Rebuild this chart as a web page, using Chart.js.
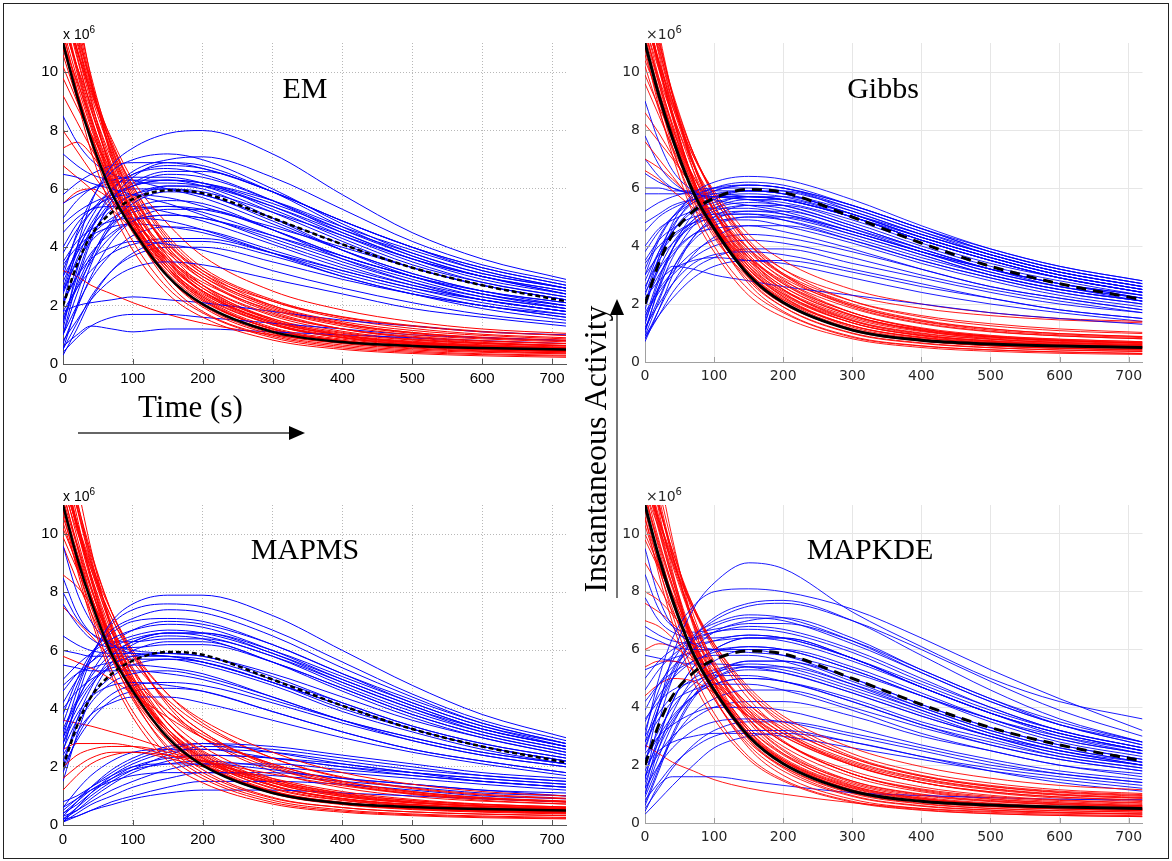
<!DOCTYPE html>
<html>
<head>
<meta charset="utf-8">
<script src="https://cdn.jsdelivr.net/npm/chart.js@4.4.1/dist/chart.umd.min.js"></script>
<style>
  body { margin: 0; background: #fff; width: 1172px; height: 861px; position: relative; overflow: hidden; }
  #frame { position: absolute; left: 3px; top: 3px; width: 1164px; height: 854px; border: 1px solid #222; }
  .panel { position: absolute; }
  .title { position: absolute; font-family: "Liberation Serif", serif; font-size: 30px; color: #000;
           transform: translate(-50%, -50%); white-space: nowrap; }
  .exp { position: absolute; white-space: nowrap; font-size: 14px; line-height: 16px; }
  .exp sup { font-size: 10px; vertical-align: 6px; line-height: 0; }
  .exp.m { font-family: "Liberation Sans", Arial, sans-serif; color: #000; }
  .exp.p { font-family: "DejaVu Sans", sans-serif; color: #262626; }
  .label { position: absolute; font-family: "Liberation Serif", serif; font-size: 31px; color: #000; white-space: nowrap; }
  svg { position: absolute; left: 0; top: 0; }
</style>
</head>
<body>
<div id="frame"></div>

<canvas id="em" class="panel" width="580" height="380" style="left:0;top:20px"></canvas>
<canvas id="gibbs" class="panel" width="580" height="380" style="left:590px;top:20px"></canvas>
<canvas id="mapms" class="panel" width="580" height="380" style="left:0;top:480px"></canvas>
<canvas id="mapkde" class="panel" width="580" height="380" style="left:590px;top:480px"></canvas>

<div class="title" style="left:305px;top:88px">EM</div>
<div class="title" style="left:883px;top:88px">Gibbs</div>
<div class="title" style="left:305px;top:549px">MAPMS</div>
<div class="title" style="left:870px;top:549px">MAPKDE</div>

<div class="exp m" style="left:63px;top:26px">x 10<sup>6</sup></div>
<div class="exp p" style="left:646px;top:26px">×10<sup>6</sup></div>
<div class="exp m" style="left:63px;top:488px">x 10<sup>6</sup></div>
<div class="exp p" style="left:646px;top:488px">×10<sup>6</sup></div>

<div class="label" style="left:138px;top:389px">Time (s)</div>
<div class="label" style="left:595px;top:449px;font-size:32px;transform:translate(-50%,-50%) rotate(-90deg)">Instantaneous Activity</div>

<svg width="1172" height="861">
  <line x1="78" y1="433" x2="290" y2="433" stroke="#333" stroke-width="1.5"/>
  <polygon points="305,433 289,426 289,440" fill="#000"/>
  <line x1="617" y1="598" x2="617" y2="314" stroke="#777" stroke-width="2"/>
  <polygon points="617,299 610,315 624,315" fill="#000"/>
</svg>

<script>
// time grid (s) shared by every curve; values in units of 1e6
const T = [0, 20, 40, 70, 100, 150, 200, 300, 400, 500, 600, 720];
const X_TICKS = [0, 100, 200, 300, 400, 500, 600, 700];
const Y_TICKS = [0, 2, 4, 6, 8, 10];

// ensemble means (black lines)
const RED_MEAN  = [11.0, 9.2, 7.7, 5.85, 4.6, 3.0, 2.05, 1.1, 0.75, 0.62, 0.55, 0.5];
const BLUE_MEAN = [2.0, 3.4, 4.4, 5.2, 5.65, 5.95, 5.85, 5.0, 4.1, 3.3, 2.7, 2.15];

// ---- EM ----
const EM_RED = [
  [13.0, 10.8, 9.0, 6.8, 5.2, 3.4, 2.3, 1.25, 0.85, 0.65, 0.55, 0.48],
  [12.0, 10.1, 8.4, 6.3, 4.8, 3.0, 2.0, 1.05, 0.7, 0.52, 0.43, 0.38],
  [14.5, 12.0, 9.9, 7.4, 5.6, 3.7, 2.6, 1.5, 1.05, 0.82, 0.7, 0.62],
  [11.4, 9.4, 7.6, 5.6, 4.2, 2.6, 1.75, 0.9, 0.55, 0.4, 0.32, 0.27],
  [12.6, 10.8, 9.2, 7.2, 5.7, 4.0, 3.0, 1.9, 1.35, 1.05, 0.9, 0.8],
  [11.0, 9.4, 7.9, 6.0, 4.7, 3.2, 2.3, 1.35, 0.92, 0.72, 0.6, 0.52],
  [15.5, 12.4, 9.8, 7.0, 5.0, 3.0, 1.95, 1.0, 0.65, 0.48, 0.4, 0.35],
  [10.2, 9.0, 7.8, 6.2, 5.0, 3.6, 2.7, 1.7, 1.2, 0.95, 0.8, 0.7],
  [12.2, 10.7, 9.3, 7.5, 6.1, 4.4, 3.3, 2.2, 1.6, 1.3, 1.1, 0.98],
  [13.6, 11.3, 9.1, 6.5, 4.7, 2.8, 1.8, 0.95, 0.6, 0.44, 0.35, 0.3],
  [9.2, 8.3, 7.4, 6.2, 5.2, 3.9, 3.0, 2.0, 1.45, 1.15, 0.98, 0.86],
  [11.8, 10.2, 8.7, 6.7, 5.2, 3.5, 2.5, 1.45, 0.98, 0.76, 0.64, 0.56],
  [8.0, 7.3, 6.6, 5.6, 4.7, 3.6, 2.8, 1.85, 1.3, 1.0, 0.86, 0.76],
  [12.9, 11.0, 9.4, 7.3, 5.8, 4.0, 2.9, 1.75, 1.2, 0.92, 0.78, 0.7],
  [11.2, 9.1, 7.3, 5.3, 3.9, 2.4, 1.6, 0.82, 0.5, 0.36, 0.28, 0.23],
  [12.3, 10.8, 9.4, 7.7, 6.3, 4.8, 3.7, 2.5, 1.85, 1.45, 1.2, 1.05],
  [6.8, 6.4, 6.0, 5.3, 4.6, 3.5, 2.6, 1.55, 1.0, 0.72, 0.58, 0.5],
  [11.0, 9.7, 8.4, 6.6, 5.3, 3.7, 2.7, 1.65, 1.12, 0.86, 0.72, 0.63],
  [13.2, 11.3, 9.6, 7.4, 5.9, 3.9, 2.7, 1.5, 0.98, 0.74, 0.62, 0.54],
  [3.2, 3.0, 2.7, 2.4, 2.1, 1.7, 1.4, 1.0, 0.72, 0.55, 0.45, 0.38],
  [10.6, 9.1, 7.7, 5.9, 4.5, 3.0, 2.05, 1.15, 0.78, 0.58, 0.48, 0.42],
  [11.6, 10.2, 8.9, 7.0, 5.7, 4.1, 3.1, 2.15, 1.62, 1.32, 1.12, 0.98],
  [7.4, 7.6, 7.2, 6.1, 5.0, 3.5, 2.5, 1.4, 0.9, 0.66, 0.54, 0.46],
  [14.0, 11.8, 9.7, 7.1, 5.3, 3.3, 2.2, 1.2, 0.8, 0.6, 0.5, 0.44],
  [12.7, 10.6, 8.8, 6.6, 5.0, 3.3, 2.25, 1.2, 0.8, 0.6, 0.5, 0.44],
  [11.9, 10.0, 8.3, 6.2, 4.7, 3.1, 2.15, 1.2, 0.8, 0.62, 0.52, 0.46],
  [13.8, 11.6, 9.6, 7.2, 5.5, 3.6, 2.5, 1.4, 0.95, 0.74, 0.62, 0.55],
  [11.3, 9.6, 8.1, 6.2, 4.9, 3.4, 2.5, 1.55, 1.08, 0.84, 0.7, 0.62],
  [12.4, 10.5, 8.8, 6.7, 5.2, 3.5, 2.45, 1.35, 0.9, 0.68, 0.56, 0.49],
  [10.8, 9.3, 7.9, 6.1, 4.8, 3.3, 2.4, 1.45, 1.0, 0.78, 0.66, 0.58],
  [9.8, 8.8, 7.9, 6.6, 5.5, 4.1, 3.2, 2.15, 1.55, 1.22, 1.02, 0.9],
  [12.1, 10.2, 8.5, 6.4, 4.9, 3.2, 2.2, 1.2, 0.8, 0.6, 0.5, 0.43],
  [13.3, 11.4, 9.7, 7.6, 6.1, 4.3, 3.2, 2.0, 1.4, 1.08, 0.9, 0.8],
  [5.5, 5.9, 6.0, 5.6, 4.9, 3.8, 2.9, 1.8, 1.2, 0.9, 0.74, 0.64],
  [11.5, 9.8, 8.2, 6.3, 4.9, 3.3, 2.35, 1.35, 0.9, 0.69, 0.58, 0.5],
  [12.8, 11.1, 9.5, 7.5, 6.0, 4.2, 3.1, 1.95, 1.38, 1.08, 0.92, 0.82]
];
const EM_BLUE = [
  [2.0, 4.0, 5.5, 6.8, 7.4, 7.9, 8.0, 7.2, 5.8, 4.5, 3.6, 2.9],
  [3.0, 4.5, 5.6, 6.6, 7.0, 7.2, 7.0, 6.0, 4.8, 3.8, 3.1, 2.6],
  [1.0, 2.8, 4.2, 5.6, 6.4, 6.9, 6.8, 5.9, 4.7, 3.7, 3.0, 2.5],
  [2.5, 3.8, 4.8, 5.7, 6.1, 6.3, 6.1, 5.2, 4.2, 3.3, 2.7, 2.2],
  [0.5, 2.0, 3.4, 4.8, 5.5, 5.9, 5.8, 4.9, 3.9, 3.1, 2.5, 2.0],
  [4.0, 4.8, 5.3, 5.7, 5.8, 5.7, 5.4, 4.6, 3.7, 3.0, 2.4, 1.9],
  [6.5, 6.4, 6.2, 6.0, 5.8, 5.5, 5.1, 4.2, 3.4, 2.7, 2.2, 1.8],
  [1.5, 2.6, 3.5, 4.4, 4.9, 5.1, 5.0, 4.3, 3.5, 2.8, 2.3, 1.9],
  [3.5, 4.2, 4.6, 4.9, 5.0, 4.9, 4.6, 3.8, 3.0, 2.4, 1.9, 1.5],
  [0.3, 1.2, 2.2, 3.2, 3.8, 4.2, 4.2, 3.7, 3.0, 2.4, 2.0, 1.6],
  [2.2, 3.0, 3.6, 4.0, 4.2, 4.1, 3.9, 3.2, 2.6, 2.1, 1.7, 1.4],
  [0.8, 1.5, 2.2, 2.9, 3.3, 3.5, 3.4, 2.9, 2.4, 1.9, 1.6, 1.3],
  [5.0, 5.6, 6.0, 6.3, 6.4, 6.4, 6.2, 5.4, 4.4, 3.5, 2.8, 2.3],
  [1.2, 3.2, 4.6, 5.9, 6.6, 7.0, 7.1, 6.4, 5.3, 4.2, 3.4, 2.8],
  [2.8, 3.9, 4.7, 5.4, 5.8, 6.0, 5.9, 5.2, 4.4, 3.6, 3.0, 2.5],
  [0.4, 0.9, 1.3, 1.6, 1.7, 1.7, 1.6, 1.4, 1.2, 1.0, 0.9, 0.8],
  [1.8, 2.0, 2.1, 2.2, 2.3, 2.2, 2.1, 1.8, 1.5, 1.3, 1.1, 1.0],
  [0.6, 1.0, 1.3, 1.2, 1.1, 1.2, 1.2, 1.1, 1.0, 0.9, 0.8, 0.7],
  [8.5, 7.6, 7.0, 6.5, 6.3, 6.0, 5.7, 4.8, 3.9, 3.1, 2.5, 2.1],
  [2.0, 3.3, 4.4, 5.3, 5.8, 6.1, 6.0, 5.0, 3.9, 3.0, 2.4, 2.0],
  [3.2, 4.4, 5.2, 6.0, 6.5, 6.7, 6.5, 5.6, 4.5, 3.6, 2.9, 2.4],
  [1.0, 2.0, 2.9, 3.8, 4.4, 4.7, 4.6, 3.9, 3.2, 2.6, 2.1, 1.7],
  [4.5, 5.0, 5.3, 5.4, 5.4, 5.2, 4.9, 4.1, 3.3, 2.7, 2.2, 1.8],
  [2.5, 3.5, 4.2, 4.8, 5.2, 5.4, 5.3, 4.7, 4.0, 3.3, 2.7, 2.2],
  [5.8, 6.2, 6.5, 6.8, 6.9, 6.9, 6.7, 5.9, 4.9, 4.0, 3.3, 2.7],
  [1.6, 2.7, 3.7, 4.7, 5.3, 5.6, 5.5, 4.6, 3.6, 2.8, 2.2, 1.8],
  [2.6, 4.0, 5.0, 6.0, 6.5, 6.8, 6.7, 5.9, 4.9, 4.0, 3.2, 2.6],
  [1.4, 3.0, 4.3, 5.5, 6.1, 6.5, 6.4, 5.6, 4.6, 3.7, 3.0, 2.4],
  [3.8, 4.6, 5.2, 5.8, 6.1, 6.3, 6.2, 5.5, 4.6, 3.8, 3.1, 2.6],
  [0.7, 1.9, 3.0, 4.2, 4.9, 5.3, 5.3, 4.6, 3.7, 3.0, 2.4, 2.0],
  [4.8, 5.2, 5.5, 5.8, 6.0, 6.0, 5.8, 5.0, 4.1, 3.3, 2.7, 2.2],
  [2.1, 3.0, 3.8, 4.5, 4.9, 5.1, 5.0, 4.4, 3.7, 3.0, 2.5, 2.1],
  [5.5, 5.8, 6.0, 6.2, 6.3, 6.3, 6.2, 5.6, 4.7, 3.9, 3.2, 2.6],
  [1.0, 2.4, 3.6, 4.9, 5.6, 6.1, 6.1, 5.3, 4.3, 3.4, 2.8, 2.3],
  [3.0, 3.8, 4.4, 5.0, 5.3, 5.4, 5.2, 4.4, 3.6, 2.9, 2.3, 1.9],
  [1.8, 2.6, 3.2, 3.8, 4.1, 4.3, 4.3, 3.8, 3.2, 2.6, 2.2, 1.8],
  [7.2, 6.8, 6.5, 6.3, 6.2, 6.2, 6.1, 5.4, 4.5, 3.6, 3.0, 2.4],
  [2.4, 3.6, 4.6, 5.6, 6.2, 6.6, 6.6, 5.9, 4.9, 4.0, 3.3, 2.7],
  [0.5, 1.4, 2.3, 3.2, 3.7, 4.0, 4.0, 3.5, 2.9, 2.4, 2.0, 1.6],
  [3.4, 4.0, 4.4, 4.7, 4.8, 4.7, 4.5, 3.8, 3.1, 2.5, 2.0, 1.7]
];

// ---- Gibbs ----
const GIBBS_RED = [
  [12.5, 10.3, 8.5, 6.3, 4.8, 3.1, 2.15, 1.15, 0.78, 0.62, 0.54, 0.48],
  [11.5, 9.6, 7.9, 5.8, 4.4, 2.8, 1.9, 1.0, 0.66, 0.5, 0.42, 0.37],
  [13.5, 11.2, 9.2, 6.8, 5.2, 3.4, 2.4, 1.35, 0.92, 0.74, 0.64, 0.57],
  [11.0, 9.1, 7.4, 5.4, 4.0, 2.5, 1.7, 0.85, 0.55, 0.42, 0.35, 0.3],
  [12.0, 10.2, 8.6, 6.6, 5.2, 3.6, 2.6, 1.6, 1.12, 0.9, 0.78, 0.7],
  [10.6, 9.0, 7.6, 5.8, 4.5, 3.0, 2.15, 1.25, 0.86, 0.68, 0.58, 0.51],
  [14.0, 11.4, 9.2, 6.6, 4.8, 2.9, 1.9, 0.98, 0.64, 0.49, 0.41, 0.36],
  [9.6, 8.5, 7.4, 5.9, 4.8, 3.4, 2.5, 1.55, 1.08, 0.86, 0.74, 0.66],
  [11.8, 10.3, 8.9, 7.1, 5.8, 4.2, 3.2, 2.1, 1.55, 1.25, 1.08, 0.98],
  [12.8, 10.6, 8.6, 6.2, 4.5, 2.7, 1.75, 0.88, 0.56, 0.42, 0.34, 0.29],
  [8.6, 7.9, 7.1, 6.0, 5.1, 3.8, 2.9, 1.95, 1.42, 1.14, 0.98, 0.88],
  [11.2, 9.6, 8.1, 6.2, 4.8, 3.2, 2.3, 1.35, 0.92, 0.72, 0.61, 0.54],
  [7.6, 7.0, 6.4, 5.5, 4.7, 3.6, 2.8, 1.85, 1.32, 1.04, 0.9, 0.8],
  [12.2, 10.4, 8.8, 6.8, 5.4, 3.7, 2.7, 1.62, 1.1, 0.86, 0.74, 0.66],
  [10.8, 8.8, 7.1, 5.1, 3.8, 2.3, 1.55, 0.8, 0.5, 0.37, 0.3, 0.26],
  [11.6, 10.1, 8.8, 7.1, 5.9, 4.4, 3.5, 2.5, 2.0, 1.7, 1.5, 1.4],
  [6.6, 6.3, 5.9, 5.3, 4.6, 3.5, 2.6, 1.6, 1.08, 0.8, 0.66, 0.57],
  [10.4, 9.2, 8.0, 6.4, 5.2, 3.7, 2.75, 1.7, 1.18, 0.92, 0.79, 0.7],
  [12.6, 10.7, 9.0, 6.9, 5.4, 3.6, 2.5, 1.42, 0.95, 0.72, 0.61, 0.54],
  [11.3, 9.8, 8.5, 6.8, 5.6, 4.1, 3.2, 2.3, 1.85, 1.6, 1.45, 1.35],
  [10.2, 8.7, 7.3, 5.6, 4.3, 2.9, 2.0, 1.1, 0.74, 0.56, 0.47, 0.41],
  [11.9, 10.4, 9.0, 7.2, 5.8, 4.1, 3.05, 1.95, 1.4, 1.1, 0.94, 0.84],
  [8.2, 7.6, 7.0, 6.0, 5.1, 3.9, 3.05, 2.1, 1.6, 1.32, 1.14, 1.02],
  [13.2, 11.1, 9.2, 6.9, 5.2, 3.3, 2.25, 1.2, 0.8, 0.61, 0.52, 0.46],
  [12.3, 10.2, 8.4, 6.2, 4.7, 3.0, 2.05, 1.08, 0.72, 0.56, 0.48, 0.43],
  [11.7, 9.8, 8.1, 6.1, 4.7, 3.1, 2.2, 1.25, 0.84, 0.66, 0.56, 0.5],
  [13.0, 10.9, 9.0, 6.8, 5.2, 3.5, 2.5, 1.45, 1.0, 0.79, 0.68, 0.6],
  [11.1, 9.4, 7.9, 6.0, 4.7, 3.2, 2.35, 1.42, 0.98, 0.78, 0.67, 0.6],
  [12.1, 10.1, 8.4, 6.3, 4.9, 3.2, 2.25, 1.25, 0.84, 0.65, 0.55, 0.49],
  [10.9, 9.3, 7.9, 6.1, 4.8, 3.3, 2.45, 1.5, 1.05, 0.83, 0.71, 0.63],
  [9.9, 8.8, 7.8, 6.4, 5.3, 3.9, 3.0, 2.0, 1.45, 1.15, 0.98, 0.87],
  [12.4, 10.3, 8.5, 6.3, 4.8, 3.1, 2.1, 1.12, 0.74, 0.56, 0.47, 0.41],
  [12.9, 11.0, 9.3, 7.2, 5.7, 3.9, 2.85, 1.7, 1.15, 0.88, 0.75, 0.66],
  [7.0, 6.7, 6.3, 5.6, 4.8, 3.6, 2.7, 1.7, 1.15, 0.88, 0.74, 0.65],
  [11.4, 9.7, 8.2, 6.3, 4.9, 3.3, 2.35, 1.35, 0.9, 0.7, 0.59, 0.52],
  [12.5, 10.8, 9.2, 7.2, 5.8, 4.1, 3.0, 1.9, 1.35, 1.06, 0.9, 0.8]
];
const GIBBS_BLUE = [
  [2.0, 3.6, 4.8, 5.8, 6.2, 6.4, 6.3, 5.6, 4.7, 3.9, 3.3, 2.8],
  [3.0, 4.2, 5.0, 5.7, 6.0, 6.1, 6.0, 5.3, 4.5, 3.7, 3.1, 2.6],
  [1.0, 2.6, 3.9, 5.1, 5.6, 5.9, 5.8, 5.1, 4.3, 3.6, 3.0, 2.5],
  [0.7, 1.8, 3.0, 4.3, 5.0, 5.4, 5.4, 4.8, 4.0, 3.3, 2.8, 2.3],
  [4.5, 5.0, 5.3, 5.6, 5.8, 5.9, 5.8, 5.1, 4.3, 3.6, 3.0, 2.5],
  [6.5, 6.2, 6.0, 5.8, 5.7, 5.6, 5.4, 4.7, 3.9, 3.2, 2.7, 2.2],
  [9.0, 7.6, 6.6, 5.9, 5.6, 5.4, 5.2, 4.5, 3.8, 3.2, 2.7, 2.3],
  [1.5, 2.9, 3.9, 4.8, 5.2, 5.4, 5.3, 4.6, 3.8, 3.1, 2.6, 2.1],
  [3.5, 4.2, 4.6, 5.0, 5.1, 5.1, 4.9, 4.2, 3.5, 2.9, 2.4, 2.0],
  [0.8, 1.8, 2.7, 3.7, 4.3, 4.7, 4.7, 4.2, 3.5, 2.9, 2.4, 2.0],
  [2.4, 3.2, 3.8, 4.4, 4.6, 4.7, 4.5, 3.9, 3.2, 2.6, 2.2, 1.8],
  [1.2, 2.0, 2.7, 3.4, 3.7, 3.8, 3.7, 3.2, 2.7, 2.2, 1.8, 1.5],
  [5.2, 5.5, 5.7, 5.9, 6.0, 6.0, 5.9, 5.3, 4.5, 3.8, 3.2, 2.7],
  [1.8, 3.4, 4.6, 5.6, 6.0, 6.2, 6.1, 5.4, 4.6, 3.8, 3.2, 2.7],
  [2.8, 3.8, 4.5, 5.2, 5.5, 5.7, 5.6, 5.0, 4.2, 3.5, 2.9, 2.4],
  [1.4, 2.6, 3.3, 3.2, 3.0, 2.8, 2.6, 2.3, 2.0, 1.7, 1.5, 1.3],
  [2.2, 2.8, 3.2, 3.5, 3.6, 3.5, 3.4, 2.9, 2.4, 2.0, 1.7, 1.4],
  [0.9, 1.6, 2.2, 2.9, 3.3, 3.5, 3.5, 3.1, 2.6, 2.2, 1.8, 1.5],
  [7.8, 6.8, 6.2, 5.8, 5.7, 5.6, 5.5, 4.9, 4.1, 3.4, 2.9, 2.4],
  [2.0, 3.2, 4.1, 4.9, 5.3, 5.5, 5.4, 4.7, 3.9, 3.2, 2.6, 2.2],
  [3.2, 4.3, 5.0, 5.6, 5.9, 6.1, 6.0, 5.4, 4.6, 3.9, 3.3, 2.8],
  [1.1, 2.2, 3.2, 4.2, 4.7, 5.0, 5.0, 4.4, 3.7, 3.0, 2.5, 2.1],
  [4.0, 4.6, 4.9, 5.2, 5.3, 5.3, 5.1, 4.5, 3.8, 3.2, 2.7, 2.3],
  [2.6, 3.5, 4.1, 4.7, 5.0, 5.1, 5.0, 4.4, 3.7, 3.0, 2.5, 2.1],
  [1.6, 2.4, 3.0, 3.6, 4.0, 4.2, 4.1, 3.6, 3.0, 2.5, 2.1, 1.7],
  [5.8, 5.8, 5.8, 5.8, 5.8, 5.7, 5.6, 5.0, 4.2, 3.5, 2.9, 2.4],
  [2.5, 3.8, 4.7, 5.5, 5.9, 6.1, 6.0, 5.4, 4.6, 3.8, 3.2, 2.7],
  [1.3, 2.8, 3.9, 4.9, 5.4, 5.7, 5.7, 5.1, 4.3, 3.6, 3.0, 2.5],
  [3.8, 4.5, 5.0, 5.5, 5.7, 5.8, 5.7, 5.1, 4.4, 3.7, 3.1, 2.6],
  [0.9, 2.1, 3.2, 4.3, 4.9, 5.2, 5.2, 4.6, 3.9, 3.2, 2.7, 2.2],
  [4.8, 5.1, 5.4, 5.6, 5.7, 5.7, 5.6, 5.0, 4.2, 3.5, 2.9, 2.4],
  [2.1, 3.0, 3.7, 4.4, 4.8, 5.0, 4.9, 4.3, 3.6, 3.0, 2.5, 2.1],
  [6.0, 6.0, 5.9, 5.9, 5.9, 5.9, 5.8, 5.2, 4.4, 3.7, 3.1, 2.6],
  [1.1, 2.5, 3.6, 4.7, 5.3, 5.6, 5.6, 5.0, 4.2, 3.5, 2.9, 2.4],
  [3.0, 3.7, 4.3, 4.8, 5.1, 5.2, 5.1, 4.5, 3.8, 3.1, 2.6, 2.2],
  [1.7, 2.5, 3.1, 3.8, 4.2, 4.4, 4.3, 3.8, 3.2, 2.6, 2.2, 1.8],
  [7.0, 6.4, 6.0, 5.8, 5.7, 5.7, 5.6, 5.0, 4.3, 3.6, 3.0, 2.5],
  [2.3, 3.6, 4.5, 5.3, 5.7, 5.9, 5.9, 5.2, 4.4, 3.7, 3.1, 2.6],
  [0.8, 1.6, 2.4, 3.2, 3.6, 3.9, 3.9, 3.4, 2.9, 2.4, 2.0, 1.7],
  [3.4, 4.0, 4.4, 4.8, 4.9, 4.9, 4.7, 4.1, 3.4, 2.8, 2.3, 1.9]
];

// ---- MAPMS ----
const MAPMS_RED = [
  [12.4, 10.3, 8.5, 6.3, 4.8, 3.1, 2.1, 1.1, 0.72, 0.56, 0.48, 0.42],
  [11.5, 9.6, 7.9, 5.8, 4.3, 2.7, 1.8, 0.92, 0.6, 0.45, 0.37, 0.32],
  [13.6, 11.2, 9.2, 6.8, 5.1, 3.3, 2.3, 1.25, 0.84, 0.65, 0.55, 0.48],
  [11.0, 9.0, 7.3, 5.3, 3.9, 2.4, 1.6, 0.78, 0.48, 0.35, 0.28, 0.23],
  [12.0, 10.2, 8.6, 6.6, 5.1, 3.5, 2.5, 1.45, 0.98, 0.76, 0.64, 0.56],
  [10.4, 8.9, 7.5, 5.7, 4.4, 2.9, 2.05, 1.15, 0.78, 0.6, 0.51, 0.45],
  [14.5, 11.8, 9.5, 6.7, 4.8, 2.9, 1.9, 0.95, 0.6, 0.45, 0.38, 0.33],
  [9.6, 8.4, 7.3, 5.8, 4.7, 3.3, 2.4, 1.45, 0.98, 0.76, 0.64, 0.56],
  [11.8, 10.3, 8.9, 7.1, 5.8, 4.2, 3.2, 2.0, 1.4, 1.08, 0.9, 0.8],
  [12.8, 10.6, 8.5, 6.1, 4.4, 2.6, 1.7, 0.85, 0.52, 0.38, 0.31, 0.26],
  [2.0, 2.4, 2.6, 2.7, 2.7, 2.5, 2.2, 1.6, 1.15, 0.88, 0.72, 0.62],
  [11.2, 9.6, 8.1, 6.2, 4.8, 3.2, 2.25, 1.28, 0.86, 0.66, 0.56, 0.49],
  [7.5, 7.0, 6.5, 5.7, 5.0, 3.9, 3.1, 2.1, 1.5, 1.15, 0.95, 0.82],
  [12.2, 10.4, 8.8, 6.8, 5.4, 3.7, 2.7, 1.6, 1.08, 0.84, 0.71, 0.62],
  [10.8, 8.8, 7.1, 5.1, 3.7, 2.2, 1.45, 0.72, 0.44, 0.32, 0.25, 0.21],
  [11.6, 10.1, 8.8, 7.1, 5.9, 4.5, 3.6, 2.5, 1.8, 1.4, 1.15, 1.0],
  [1.2, 1.7, 2.1, 2.4, 2.5, 2.4, 2.2, 1.75, 1.35, 1.05, 0.85, 0.72],
  [10.2, 9.0, 7.8, 6.2, 5.0, 3.5, 2.55, 1.52, 1.02, 0.78, 0.66, 0.58],
  [5.8, 5.6, 5.4, 5.0, 4.5, 3.7, 3.0, 2.1, 1.5, 1.15, 0.94, 0.8],
  [2.6, 2.8, 2.8, 2.8, 2.7, 2.4, 2.1, 1.5, 1.05, 0.8, 0.65, 0.56],
  [10.6, 9.1, 7.7, 5.9, 4.5, 3.0, 2.1, 1.15, 0.76, 0.58, 0.49, 0.43],
  [11.9, 10.4, 9.0, 7.3, 6.0, 4.5, 3.5, 2.3, 1.62, 1.25, 1.03, 0.9],
  [8.6, 8.2, 7.6, 6.6, 5.6, 4.3, 3.4, 2.3, 1.65, 1.28, 1.06, 0.92],
  [13.0, 10.9, 9.0, 6.7, 5.0, 3.2, 2.15, 1.15, 0.76, 0.58, 0.49, 0.43],
  [12.5, 10.4, 8.6, 6.4, 4.9, 3.2, 2.2, 1.18, 0.78, 0.6, 0.5, 0.44],
  [11.8, 9.9, 8.2, 6.1, 4.6, 3.0, 2.05, 1.1, 0.72, 0.55, 0.46, 0.4],
  [13.1, 11.0, 9.1, 6.9, 5.3, 3.5, 2.45, 1.38, 0.92, 0.71, 0.6, 0.52],
  [11.1, 9.4, 7.9, 6.0, 4.7, 3.2, 2.3, 1.35, 0.9, 0.7, 0.59, 0.52],
  [1.6, 2.0, 2.3, 2.5, 2.5, 2.3, 2.0, 1.45, 1.02, 0.78, 0.64, 0.55],
  [10.9, 9.3, 7.9, 6.0, 4.7, 3.2, 2.3, 1.35, 0.9, 0.7, 0.58, 0.51],
  [9.9, 8.8, 7.8, 6.4, 5.3, 3.9, 3.0, 1.95, 1.4, 1.08, 0.9, 0.78],
  [12.2, 10.2, 8.4, 6.3, 4.7, 3.0, 2.05, 1.08, 0.7, 0.53, 0.44, 0.38],
  [12.9, 11.1, 9.4, 7.3, 5.9, 4.1, 3.0, 1.85, 1.28, 0.98, 0.82, 0.72],
  [3.6, 3.5, 3.4, 3.2, 3.0, 2.6, 2.2, 1.55, 1.1, 0.84, 0.69, 0.6],
  [11.4, 9.7, 8.2, 6.3, 4.9, 3.3, 2.35, 1.35, 0.9, 0.69, 0.58, 0.51],
  [12.6, 10.9, 9.3, 7.3, 5.9, 4.2, 3.2, 2.05, 1.45, 1.12, 0.93, 0.82]
];
const MAPMS_BLUE = [
  [2.5, 4.3, 5.7, 7.0, 7.6, 7.9, 7.9, 7.2, 6.0, 4.8, 3.8, 3.0],
  [3.5, 4.8, 5.8, 6.7, 7.1, 7.4, 7.3, 6.5, 5.4, 4.4, 3.5, 2.8],
  [5.0, 5.5, 5.9, 6.4, 6.7, 6.9, 6.8, 6.0, 5.0, 4.1, 3.3, 2.7],
  [2.0, 3.6, 4.7, 5.8, 6.3, 6.6, 6.5, 5.8, 4.8, 3.9, 3.2, 2.6],
  [9.6, 8.0, 7.0, 6.2, 5.9, 5.8, 5.6, 4.9, 4.1, 3.3, 2.7, 2.2],
  [6.5, 6.2, 6.0, 5.9, 5.9, 5.8, 5.7, 5.0, 4.2, 3.4, 2.8, 2.3],
  [3.0, 4.0, 4.8, 5.5, 5.8, 5.9, 5.8, 5.1, 4.2, 3.4, 2.8, 2.3],
  [4.0, 4.6, 5.0, 5.4, 5.5, 5.4, 5.2, 4.4, 3.6, 2.9, 2.4, 2.0],
  [2.2, 3.4, 4.2, 4.9, 5.2, 5.3, 5.1, 4.4, 3.6, 3.0, 2.5, 2.1],
  [7.6, 6.9, 6.4, 6.1, 6.1, 6.2, 6.2, 5.6, 4.7, 3.8, 3.1, 2.5],
  [2.8, 3.8, 4.4, 4.8, 4.9, 4.8, 4.6, 3.9, 3.2, 2.6, 2.2, 1.8],
  [3.2, 4.2, 4.9, 5.6, 6.0, 6.3, 6.3, 5.6, 4.7, 3.8, 3.1, 2.5],
  [4.6, 5.2, 5.6, 6.1, 6.4, 6.6, 6.6, 6.0, 5.1, 4.2, 3.4, 2.8],
  [1.8, 3.0, 3.8, 4.5, 4.8, 4.9, 4.8, 4.2, 3.5, 2.9, 2.4, 2.0],
  [5.5, 5.4, 5.3, 5.3, 5.3, 5.2, 5.0, 4.3, 3.6, 3.0, 2.5, 2.1],
  [2.4, 3.2, 3.8, 4.2, 4.4, 4.4, 4.2, 3.6, 3.0, 2.5, 2.1, 1.7],
  [3.8, 5.0, 5.9, 6.6, 7.0, 7.1, 7.0, 6.2, 5.2, 4.3, 3.5, 2.8],
  [8.5, 7.3, 6.6, 6.2, 6.0, 5.9, 5.8, 5.2, 4.4, 3.6, 3.0, 2.4],
  [0.2, 0.6, 1.0, 1.5, 1.9, 2.4, 2.7, 2.6, 2.3, 2.0, 1.7, 1.5],
  [0.3, 0.5, 0.8, 1.2, 1.5, 1.9, 2.1, 2.1, 1.9, 1.7, 1.5, 1.3],
  [0.1, 0.4, 0.7, 1.0, 1.3, 1.6, 1.8, 1.8, 1.6, 1.4, 1.2, 1.1],
  [0.5, 0.9, 1.3, 1.8, 2.2, 2.6, 2.8, 2.7, 2.4, 2.1, 1.8, 1.6],
  [0.2, 0.3, 0.5, 0.8, 1.0, 1.3, 1.5, 1.5, 1.4, 1.2, 1.0, 0.9],
  [0.6, 1.2, 1.7, 2.2, 2.5, 2.6, 2.6, 2.3, 2.0, 1.7, 1.5, 1.3],
  [0.1, 0.3, 0.5, 0.7, 0.9, 1.1, 1.2, 1.2, 1.1, 1.0, 0.9, 0.8],
  [0.4, 0.7, 1.1, 1.6, 2.0, 2.3, 2.4, 2.3, 2.0, 1.8, 1.6, 1.4],
  [0.8, 1.0, 1.3, 1.7, 2.0, 2.1, 2.1, 1.9, 1.6, 1.4, 1.2, 1.0],
  [0.3, 0.8, 1.3, 1.9, 2.3, 2.7, 2.8, 2.5, 2.1, 1.8, 1.5, 1.3],
  [2.8, 4.2, 5.2, 6.2, 6.7, 7.0, 6.9, 6.2, 5.2, 4.2, 3.4, 2.7],
  [1.5, 3.1, 4.4, 5.6, 6.2, 6.5, 6.4, 5.6, 4.6, 3.7, 3.0, 2.4],
  [4.2, 5.0, 5.6, 6.2, 6.5, 6.7, 6.6, 5.9, 4.9, 4.0, 3.3, 2.7],
  [6.0, 5.9, 5.8, 5.8, 5.8, 5.8, 5.6, 4.9, 4.1, 3.3, 2.7, 2.2],
  [2.6, 3.6, 4.4, 5.1, 5.5, 5.7, 5.6, 4.9, 4.0, 3.3, 2.7, 2.2],
  [3.3, 4.3, 5.1, 5.9, 6.3, 6.6, 6.6, 5.9, 5.0, 4.1, 3.3, 2.7],
  [8.0, 7.1, 6.6, 6.3, 6.3, 6.4, 6.4, 5.8, 4.9, 4.0, 3.2, 2.6],
  [2.0, 2.9, 3.6, 4.3, 4.6, 4.7, 4.6, 3.9, 3.2, 2.6, 2.2, 1.8],
  [4.8, 5.2, 5.4, 5.6, 5.7, 5.7, 5.5, 4.8, 3.9, 3.2, 2.6, 2.1],
  [3.0, 4.6, 5.8, 6.9, 7.4, 7.6, 7.5, 6.7, 5.6, 4.5, 3.6, 2.9],
  [0.2, 0.5, 0.9, 1.4, 1.8, 2.2, 2.4, 2.3, 2.1, 1.8, 1.6, 1.4],
  [0.4, 0.8, 1.2, 1.6, 1.9, 2.1, 2.2, 2.0, 1.8, 1.6, 1.4, 1.2],
  [0.1, 0.6, 1.1, 1.7, 2.1, 2.5, 2.6, 2.5, 2.2, 1.9, 1.7, 1.5],
  [0.6, 0.9, 1.2, 1.5, 1.7, 1.8, 1.8, 1.7, 1.5, 1.3, 1.1, 1.0]
];

// ---- MAPKDE ----
const MAPKDE_RED = [
  [12.6, 10.4, 8.6, 6.4, 4.8, 3.1, 2.1, 1.1, 0.72, 0.56, 0.48, 0.42],
  [11.4, 9.5, 7.8, 5.7, 4.3, 2.7, 1.8, 0.92, 0.58, 0.44, 0.36, 0.31],
  [14.0, 11.6, 9.6, 7.2, 5.5, 3.6, 2.5, 1.4, 0.95, 0.74, 0.63, 0.55],
  [10.8, 8.9, 7.2, 5.2, 3.8, 2.3, 1.5, 0.75, 0.46, 0.33, 0.26, 0.22],
  [12.2, 10.5, 8.9, 6.9, 5.4, 3.8, 2.8, 1.7, 1.18, 0.92, 0.78, 0.68],
  [10.5, 9.0, 7.6, 5.8, 4.5, 3.0, 2.15, 1.22, 0.82, 0.63, 0.53, 0.46],
  [15.0, 12.2, 9.8, 6.9, 4.9, 2.9, 1.9, 0.95, 0.6, 0.45, 0.37, 0.32],
  [9.0, 8.2, 7.3, 6.0, 5.0, 3.7, 2.8, 1.8, 1.25, 0.96, 0.8, 0.7],
  [11.7, 10.4, 9.1, 7.4, 6.1, 4.5, 3.5, 2.3, 1.65, 1.3, 1.1, 0.98],
  [13.2, 10.8, 8.7, 6.1, 4.4, 2.6, 1.65, 0.82, 0.5, 0.37, 0.3, 0.25],
  [5.4, 5.6, 5.6, 5.3, 4.8, 3.8, 3.0, 2.0, 1.4, 1.08, 0.9, 0.78],
  [11.2, 9.6, 8.1, 6.2, 4.8, 3.2, 2.25, 1.28, 0.86, 0.66, 0.56, 0.49],
  [7.0, 6.8, 6.4, 5.7, 5.0, 3.9, 3.1, 2.1, 1.52, 1.18, 0.98, 0.86],
  [12.4, 10.6, 9.0, 7.0, 5.6, 3.9, 2.85, 1.7, 1.15, 0.88, 0.74, 0.64],
  [10.6, 8.6, 6.9, 4.9, 3.6, 2.2, 1.45, 0.72, 0.44, 0.32, 0.26, 0.22],
  [11.5, 10.2, 9.0, 7.4, 6.2, 4.7, 3.7, 2.6, 1.95, 1.55, 1.3, 1.15],
  [2.7, 2.4, 2.1, 1.8, 1.5, 1.2, 1.0, 0.7, 0.5, 0.4, 0.34, 0.3],
  [10.0, 8.9, 7.8, 6.3, 5.1, 3.6, 2.65, 1.6, 1.08, 0.82, 0.69, 0.6],
  [6.0, 6.2, 6.1, 5.6, 4.9, 3.7, 2.8, 1.7, 1.12, 0.84, 0.7, 0.6],
  [12.9, 11.0, 9.2, 7.0, 5.4, 3.5, 2.4, 1.3, 0.86, 0.66, 0.56, 0.49],
  [10.3, 8.8, 7.4, 5.6, 4.3, 2.8, 1.95, 1.05, 0.68, 0.51, 0.43, 0.38],
  [11.9, 10.5, 9.2, 7.5, 6.2, 4.6, 3.6, 2.4, 1.75, 1.38, 1.15, 1.02],
  [8.0, 7.7, 7.2, 6.3, 5.4, 4.1, 3.2, 2.15, 1.55, 1.2, 1.0, 0.88],
  [13.6, 11.3, 9.3, 6.8, 5.1, 3.2, 2.15, 1.15, 0.76, 0.58, 0.49, 0.43],
  [12.4, 10.3, 8.5, 6.3, 4.8, 3.1, 2.15, 1.15, 0.76, 0.58, 0.49, 0.43],
  [11.6, 9.8, 8.2, 6.1, 4.7, 3.1, 2.2, 1.25, 0.84, 0.65, 0.55, 0.48],
  [13.2, 11.1, 9.2, 7.0, 5.4, 3.6, 2.55, 1.45, 0.98, 0.76, 0.64, 0.56],
  [10.9, 9.3, 7.9, 6.1, 4.8, 3.3, 2.4, 1.45, 1.0, 0.78, 0.66, 0.58],
  [12.0, 10.1, 8.4, 6.3, 4.8, 3.2, 2.2, 1.2, 0.8, 0.62, 0.52, 0.46],
  [4.4, 4.8, 5.0, 4.9, 4.5, 3.7, 3.0, 2.0, 1.4, 1.05, 0.86, 0.74],
  [9.8, 8.8, 7.9, 6.5, 5.4, 4.0, 3.1, 2.05, 1.48, 1.15, 0.96, 0.85],
  [12.3, 10.2, 8.4, 6.2, 4.6, 2.9, 1.95, 1.02, 0.66, 0.5, 0.42, 0.37],
  [12.8, 11.0, 9.4, 7.4, 6.0, 4.3, 3.2, 2.0, 1.4, 1.08, 0.9, 0.8],
  [7.6, 7.3, 6.9, 6.1, 5.3, 4.1, 3.3, 2.25, 1.62, 1.26, 1.05, 0.92],
  [11.3, 9.7, 8.2, 6.3, 4.9, 3.3, 2.35, 1.35, 0.9, 0.69, 0.58, 0.51],
  [12.6, 10.9, 9.4, 7.5, 6.1, 4.5, 3.4, 2.25, 1.62, 1.27, 1.07, 0.95]
];
const MAPKDE_BLUE = [
  [2.0, 4.0, 5.8, 7.4, 8.3, 9.0, 8.8, 7.3, 6.1, 5.0, 4.2, 3.6],
  [3.0, 5.0, 6.4, 7.5, 8.0, 8.1, 8.0, 7.4, 6.4, 5.3, 4.3, 3.2],
  [1.5, 3.5, 5.0, 6.4, 7.1, 7.6, 7.7, 7.0, 5.8, 4.6, 3.6, 2.8],
  [2.6, 4.0, 5.0, 6.0, 6.6, 7.0, 7.1, 6.4, 5.3, 4.3, 3.4, 2.7],
  [5.0, 5.6, 6.0, 6.4, 6.6, 6.8, 6.7, 6.0, 5.0, 4.0, 3.2, 2.6],
  [9.5, 7.8, 6.8, 6.2, 6.0, 5.9, 5.8, 5.2, 4.4, 3.6, 3.0, 2.5],
  [1.0, 2.6, 3.8, 5.0, 5.6, 6.0, 6.0, 5.4, 4.5, 3.6, 2.9, 2.4],
  [3.5, 4.4, 5.0, 5.6, 5.9, 6.1, 6.0, 5.3, 4.4, 3.5, 2.8, 2.3],
  [6.5, 6.3, 6.1, 6.0, 6.0, 6.0, 5.8, 5.0, 4.1, 3.3, 2.7, 2.2],
  [0.6, 1.8, 3.0, 4.3, 5.0, 5.4, 5.4, 4.8, 4.0, 3.2, 2.6, 2.1],
  [2.2, 3.2, 4.0, 4.8, 5.2, 5.4, 5.3, 4.6, 3.8, 3.0, 2.4, 2.0],
  [4.2, 4.8, 5.2, 5.6, 5.8, 5.8, 5.6, 4.8, 3.9, 3.1, 2.5, 2.0],
  [1.8, 2.8, 3.6, 4.4, 4.8, 5.0, 4.9, 4.2, 3.4, 2.7, 2.2, 1.8],
  [0.9, 2.0, 2.9, 3.8, 4.3, 4.6, 4.6, 4.0, 3.3, 2.7, 2.2, 1.8],
  [2.8, 3.6, 4.2, 4.6, 4.8, 4.8, 4.6, 3.9, 3.1, 2.5, 2.0, 1.6],
  [0.4, 1.3, 1.6, 1.6, 1.6, 1.45, 1.3, 1.05, 0.95, 0.88, 0.82, 0.8],
  [1.2, 2.0, 2.6, 3.2, 3.5, 3.6, 3.5, 3.0, 2.5, 2.0, 1.7, 1.4],
  [0.8, 1.4, 2.0, 2.6, 3.0, 3.2, 3.2, 2.8, 2.3, 1.9, 1.6, 1.3],
  [7.8, 7.0, 6.6, 6.4, 6.4, 6.5, 6.4, 5.7, 4.8, 3.9, 3.2, 2.6],
  [3.2, 4.6, 5.6, 6.5, 6.9, 7.2, 7.1, 6.3, 5.2, 4.2, 3.4, 2.8],
  [1.4, 2.6, 3.5, 4.4, 5.0, 5.3, 5.2, 4.5, 3.7, 3.0, 2.4, 2.0],
  [5.8, 5.7, 5.6, 5.5, 5.5, 5.4, 5.2, 4.5, 3.7, 3.0, 2.5, 2.0],
  [2.4, 3.0, 3.4, 3.8, 4.0, 4.0, 3.9, 3.3, 2.7, 2.2, 1.8, 1.5],
  [0.3, 0.8, 1.3, 2.0, 2.6, 3.0, 3.1, 2.8, 2.3, 1.8, 1.4, 1.1],
  [4.6, 5.3, 5.8, 6.3, 6.6, 6.7, 6.6, 5.9, 4.9, 4.0, 3.2, 2.6],
  [2.0, 2.5, 2.8, 3.0, 3.1, 3.1, 3.0, 2.6, 2.2, 1.8, 1.5, 1.2],
  [1.6, 3.0, 4.2, 5.4, 6.0, 6.4, 6.4, 5.7, 4.7, 3.8, 3.1, 2.5],
  [2.5, 4.0, 5.2, 6.3, 6.8, 7.1, 7.0, 6.2, 5.2, 4.2, 3.4, 2.7],
  [1.2, 2.9, 4.2, 5.4, 6.0, 6.4, 6.4, 5.7, 4.7, 3.8, 3.0, 2.4],
  [3.9, 4.8, 5.4, 6.0, 6.3, 6.5, 6.4, 5.7, 4.7, 3.8, 3.1, 2.5],
  [0.7, 1.9, 3.1, 4.4, 5.1, 5.6, 5.6, 5.0, 4.1, 3.3, 2.7, 2.2],
  [5.3, 5.5, 5.7, 5.9, 6.0, 6.1, 6.0, 5.3, 4.4, 3.6, 2.9, 2.4],
  [2.2, 3.0, 3.7, 4.4, 4.8, 5.0, 4.9, 4.3, 3.5, 2.9, 2.3, 1.9],
  [8.6, 7.4, 6.8, 6.6, 6.7, 6.9, 6.9, 6.3, 5.3, 4.3, 3.5, 2.8],
  [1.0, 2.3, 3.4, 4.6, 5.2, 5.6, 5.6, 4.9, 4.0, 3.2, 2.6, 2.1],
  [3.0, 3.8, 4.4, 5.0, 5.3, 5.5, 5.4, 4.7, 3.9, 3.1, 2.5, 2.1],
  [1.6, 2.4, 3.0, 3.6, 4.0, 4.2, 4.2, 3.7, 3.0, 2.5, 2.0, 1.7],
  [6.8, 6.5, 6.3, 6.2, 6.3, 6.4, 6.3, 5.6, 4.7, 3.8, 3.1, 2.5],
  [2.8, 4.2, 5.3, 6.4, 7.0, 7.5, 7.6, 7.0, 6.0, 4.9, 3.9, 3.0],
  [0.5, 1.2, 1.9, 2.7, 3.2, 3.5, 3.5, 3.1, 2.6, 2.1, 1.7, 1.4],
  [3.6, 4.2, 4.6, 4.9, 5.1, 5.1, 4.9, 4.2, 3.4, 2.8, 2.3, 1.9]
];

// two axis looks: old-style dotted grid (left column) and newer solid grid (right column)
const LOOKS = {
  classic: {
    font: { family: '"Liberation Sans", Arial, sans-serif', size: 15 }, tickColor: '#000',
    grid: '#b8b8b8', gridDash: [1, 2], axis: '#555', lineWidth: 1,
    meanWidth: 2.5, meanDash: [5, 3]
  },
  modern: {
    font: { family: '"DejaVu Sans", sans-serif', size: 14 }, tickColor: '#262626',
    grid: '#e6e6e6', gridDash: [], axis: '#a0a0a0', lineWidth: 0.9,
    meanWidth: 3, meanDash: [10, 7]
  }
};

// inward tick marks along the bottom and left axes
const innerTicks = {
  id: 'innerTicks',
  afterDraw(chart, args, opts) {
    const { ctx, chartArea: a, scales: { x, y } } = chart;
    ctx.save();
    ctx.strokeStyle = opts.color;
    ctx.lineWidth = 1;
    ctx.beginPath();
    X_TICKS.forEach(v => {
      const px = Math.round(x.getPixelForValue(v)) + 0.5;
      ctx.moveTo(px, a.bottom); ctx.lineTo(px, a.bottom - 5);
    });
    Y_TICKS.forEach(v => {
      const py = Math.round(y.getPixelForValue(v)) + 0.5;
      ctx.moveTo(a.left, py); ctx.lineTo(a.left + 5, py);
    });
    ctx.stroke();
    ctx.restore();
  }
};

function toPoints(row) {
  return row.map((v, i) => ({ x: T[i], y: v }));
}

function curve(row, color, width, extra) {
  return Object.assign({
    data: toPoints(row), borderColor: color, borderWidth: width,
    pointRadius: 0, fill: false, cubicInterpolationMode: 'monotone', order: 1
  }, extra || {});
}

function drawPanel(id, red, blue, look, area) {
  const st = LOOKS[look];
  const sets = [
    curve(RED_MEAN, '#000', st.meanWidth, { order: 0 }),
    curve(BLUE_MEAN, '#000', st.meanWidth, { order: 0, borderDash: st.meanDash })
  ];
  const n = Math.max(red.length, blue.length);
  for (let i = 0; i < n; i++) {
    if (blue[i]) sets.push(curve(blue[i], '#0000ff', st.lineWidth));
    if (red[i]) sets.push(curve(red[i], '#ff0000', st.lineWidth));
  }

  const axisCommon = {
    type: 'linear',
    grid: { color: st.grid, drawTicks: false, lineWidth: 1 },
    border: { color: st.axis, width: 1, dash: st.gridDash },
    ticks: { font: st.font, color: st.tickColor, padding: 6, autoSkip: false, maxRotation: 0 }
  };

  new Chart(document.getElementById(id), {
    type: 'line',
    data: { datasets: sets },
    options: {
      responsive: false,
      animation: false,
      events: [],
      layout: { padding: { top: area.top, right: area.right, left: 0, bottom: 0 } },
      scales: {
        x: Object.assign({}, axisCommon, {
          min: 0, max: 720,
          afterBuildTicks: s => { s.ticks = X_TICKS.map(v => ({ value: v })); },
          afterFit: s => { s.height = area.xh; }
        }),
        y: Object.assign({}, axisCommon, {
          min: 0, max: 11,
          ticks: Object.assign({}, axisCommon.ticks, { padding: 5 }),
          afterBuildTicks: s => { s.ticks = Y_TICKS.map(v => ({ value: v })); },
          afterFit: s => { s.width = area.yw; }
        })
      },
      plugins: {
        legend: { display: false },
        tooltip: { enabled: false },
        innerTicks: { color: st.axis }
      }
    },
    plugins: [innerTicks]
  });
}

drawPanel('em', EM_RED, EM_BLUE, 'classic', { top: 23, right: 14, xh: 36, yw: 63 });
drawPanel('gibbs', GIBBS_RED, GIBBS_BLUE, 'modern', { top: 23, right: 27.5, xh: 38, yw: 55 });
drawPanel('mapms', MAPMS_RED, MAPMS_BLUE, 'classic', { top: 25, right: 14, xh: 35, yw: 63 });
drawPanel('mapkde', MAPKDE_RED, MAPKDE_BLUE, 'modern', { top: 25, right: 27.5, xh: 37, yw: 55 });
</script>
</body>
</html>
